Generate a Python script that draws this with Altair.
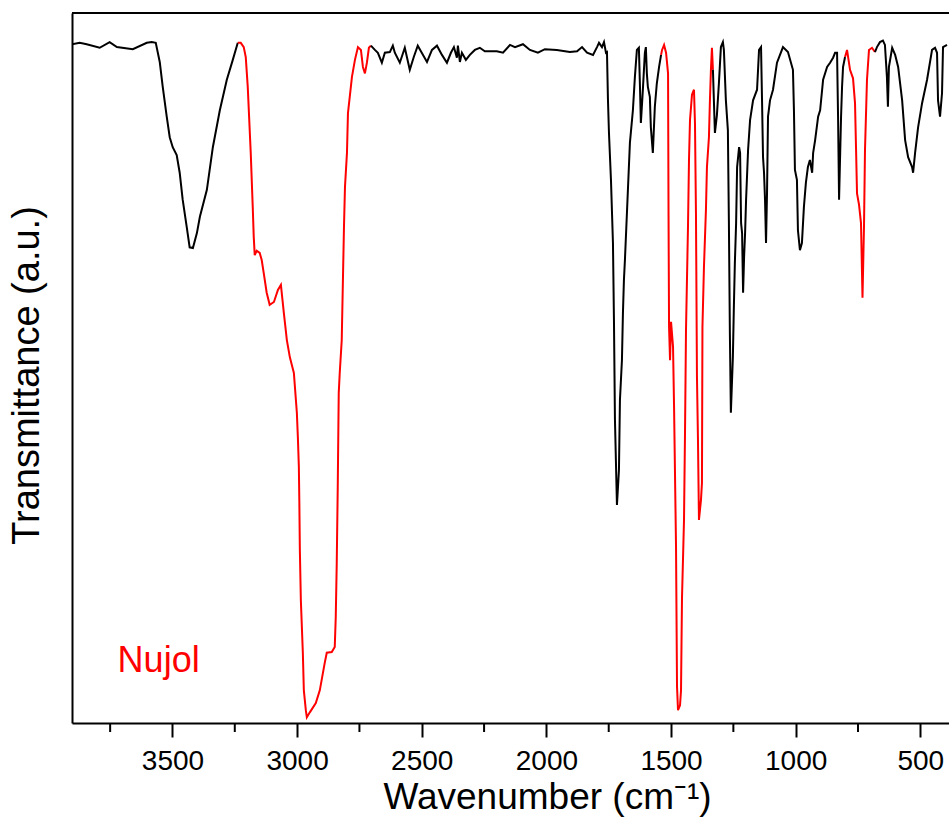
import altair as alt
import pandas as pd

FONT = "Liberation Sans"

# ---- spectrum: wavenumber (cm-1) and transmittance (a.u., 0-100) ----
seg1_wn = [3903, 3872, 3844, 3792, 3752, 3723, 3659, 3603, 3583, 3567, 3551, 3539, 3523, 3511, 3499,
           3483, 3471, 3459, 3443, 3431, 3418, 3402, 3390, 3362, 3338, 3310, 3282, 3258, 3238]
seg1_t = [95.6, 95.8, 95.6, 95.1, 95.9, 95.2, 94.9, 95.8, 95.9, 95.8, 93.1, 89.6, 85.4, 82.5, 81.1,
          80.0, 77.5, 73.7, 69.9, 67.0, 66.9, 69.0, 71.3, 75.1, 81.1, 86.3, 90.6, 93.4, 95.8]

seg2_wn = [3238, 3226, 3214, 3206, 3198, 3186, 3178, 3174, 3170, 3162, 3150, 3142, 3134, 3122, 3110,
           3093, 3077, 3065, 3053, 3041, 3029, 3013, 3001, 2997, 2993, 2991, 2989, 2985, 2977, 2973,
           2965, 2961, 2949, 2925, 2909, 2889, 2881, 2861, 2849, 2845, 2841, 2837, 2833, 2829, 2821,
           2812, 2808, 2800, 2796, 2780, 2768, 2756, 2744, 2736, 2728, 2720, 2712, 2704]
seg2_t = [95.8, 95.8, 95.2, 93.8, 89.6, 80.3, 72.7, 68.5, 65.9, 66.5, 66.2, 65.2, 63.4, 60.6, 58.9,
          59.3, 61.0, 61.7, 57.7, 53.9, 51.5, 49.3, 43.7, 40.3, 36.1, 31.0, 24.4, 17.3, 9.9, 4.6,
          1.8, 0.8, 1.5, 2.8, 4.6, 8.5, 9.9, 10.0, 10.7, 14.9, 22.5, 33.2, 46.5, 49.3, 53.9,
          69.9, 75.5, 80.3, 85.9, 91.0, 93.4, 95.2, 94.8, 92.4, 91.5, 93.0, 95.1, 95.4]

seg3_wn = [2704, 2688, 2676, 2660, 2648, 2628, 2616, 2608, 2588, 2568, 2548, 2532, 2516, 2500, 2479,
           2459, 2439, 2419, 2399, 2383, 2371, 2359, 2355, 2347, 2339, 2323, 2307, 2287, 2267, 2247,
           2227, 2199, 2174, 2146, 2126, 2094, 2066, 2034, 2006, 1958, 1906, 1877, 1857, 1837, 1813,
           1797, 1789, 1777, 1769, 1761, 1757, 1753, 1749, 1741, 1733, 1729, 1725, 1717, 1709, 1705,
           1697, 1693, 1689, 1685, 1677, 1673, 1665, 1653, 1645, 1637, 1629, 1625, 1621, 1613, 1605,
           1601, 1597, 1593, 1585, 1581, 1573, 1565, 1557, 1548, 1540]
seg3_t = [95.4, 94.8, 94.4, 93.0, 94.4, 94.5, 95.4, 94.4, 93.0, 95.1, 92.0, 93.8, 95.4, 94.4, 93.1,
          94.8, 95.4, 94.1, 93.0, 94.4, 95.2, 93.7, 95.4, 93.1, 94.4, 93.4, 94.1, 94.8, 95.1, 94.6,
          94.6, 94.6, 94.4, 95.5, 95.2, 95.6, 94.8, 94.4, 94.9, 94.8, 94.5, 94.6, 95.2, 94.4, 94.1,
          95.2, 95.8, 95.2, 95.9, 94.4, 94.5, 87.7, 83.1, 76.5, 67.6, 56.8, 42.7, 30.7, 35.6, 45.5,
          51.1, 57.7, 62.4, 65.2, 71.8, 75.1, 81.7, 86.3, 91.0, 94.8, 95.1, 90.1, 84.5, 89.2, 94.4,
          95.2, 91.5, 89.6, 88.2, 83.9, 80.3, 86.8, 90.1, 92.4, 94.1]

seg4_wn = [1540, 1536, 1528, 1520, 1512, 1510, 1508, 1504, 1500, 1492, 1488, 1480, 1476, 1472, 1464,
           1460, 1458, 1456, 1448, 1444, 1440, 1432, 1428, 1424, 1416, 1408, 1404, 1400, 1396, 1392,
           1388, 1380, 1376, 1374, 1368, 1360, 1356, 1348, 1344, 1340, 1336, 1332]
seg4_t = [94.1, 94.8, 95.5, 94.4, 91.5, 71.3, 55.8, 51.1, 56.5, 53.0, 44.8, 24.8, 5.1, 1.8, 2.5,
          4.6, 11.3, 17.7, 28.6, 40.8, 55.4, 69.9, 79.3, 84.9, 88.5, 89.2, 84.5, 71.8, 48.7, 39.9,
          28.6, 31.4, 33.8, 55.8, 64.2, 72.3, 78.3, 82.5, 87.7, 92.0, 95.1, 92.0]

seg5_wn = [1332, 1324, 1316, 1308, 1300, 1292, 1288, 1280, 1272, 1268, 1264, 1260, 1252, 1248, 1244,
           1239, 1235, 1227, 1223, 1219, 1215, 1211, 1207, 1203, 1199, 1191, 1183, 1171, 1155, 1147,
           1139, 1135, 1131, 1127, 1123, 1119, 1115, 1111, 1103, 1091, 1075, 1051, 1031, 1011, 1007,
           1003, 995, 991, 983, 975, 967, 959, 951, 943, 934, 930, 922, 910, 902, 890,
           874, 862, 850, 842, 834, 830, 826, 818, 814, 810, 802]
seg5_t = [92.0, 83.1, 85.6, 90.1, 95.2, 95.9, 94.8, 87.7, 83.5, 70.8, 54.9, 43.7, 51.5, 58.6, 64.8,
          70.4, 78.3, 81.1, 80.3, 70.4, 69.0, 60.6, 65.6, 69.0, 73.7, 80.7, 84.9, 87.7, 89.2, 94.8,
          95.2, 87.7, 79.7, 77.5, 73.7, 67.6, 74.6, 85.4, 87.7, 89.2, 93.0, 95.2, 94.5, 92.0, 86.3,
          77.9, 76.5, 69.4, 66.6, 67.6, 72.7, 76.1, 78.3, 79.3, 77.5, 80.3, 82.1, 85.4, 86.3, 90.6,
          92.4, 93.0, 93.7, 94.4, 94.4, 85.4, 73.7, 85.4, 89.6, 92.4, 93.8]

seg6_wn = [802, 794, 782, 770, 762, 758, 754, 746, 738, 732, 726, 722, 714, 706, 694, 682]
seg6_t = [93.8, 94.8, 92.0, 90.8, 87.3, 81.1, 74.6, 73.0, 70.4, 59.9, 69.9, 80.7, 90.6, 94.8, 95.1, 94.5]

seg7_wn = [682, 674, 662, 650, 642, 634, 630, 626, 613, 601, 589, 573, 561, 549, 533,
           529, 521, 509, 493, 473, 453, 441, 433, 429, 421, 413, 409, 393]
seg7_t = [94.5, 95.2, 95.9, 96.1, 95.5, 91.0, 86.8, 92.4, 95.1, 94.1, 92.4, 87.7, 82.1, 79.7, 78.3,
          77.5, 80.3, 83.9, 87.3, 90.6, 94.8, 95.1, 94.4, 87.7, 85.4, 88.7, 95.2, 95.5]

segments = [
    (seg1_wn, seg1_t, "#000000"),
    (seg2_wn, seg2_t, "#ff0000"),
    (seg3_wn, seg3_t, "#000000"),
    (seg4_wn, seg4_t, "#ff0000"),
    (seg5_wn, seg5_t, "#000000"),
    (seg6_wn, seg6_t, "#ff0000"),
    (seg7_wn, seg7_t, "#000000"),
]

major_ticks = [3500, 3000, 2500, 2000, 1500, 1000, 500]
minor_ticks = [3750, 3250, 2750, 2250, 1750, 1250, 750]
x_domain = [385, 3903]
y_domain = [0, 100]

rows = []
for s, (wns, ts, col) in enumerate(segments):
    for i, (w, t) in enumerate(zip(wns, ts)):
        rows.append({"wn": w, "T": t, "seg": s, "i": i, "color": col})
df = pd.DataFrame(rows)

W, H = 877, 710

x_enc = alt.X(
    "wn:Q",
    scale=alt.Scale(domain=x_domain, reverse=True, nice=False, zero=False),
    axis=alt.Axis(
        values=major_ticks, format="d", tickSize=14, labelFontSize=28, labelPadding=10,
        labelFont=FONT, labelColor="black", labelFlush=False, labelOverlap=False,
        title="Wavenumber (cm\u207b\u00b9)", titleFont=FONT, titleFontSize=37,
        titleFontWeight="normal", titleColor="black", titleX=475, titleY=85,
        titleBaseline="alphabetic", titleAlign="center", grid=False,
        domainColor="black", domainWidth=2, tickColor="black", tickWidth=2,
    ),
)
y_enc = alt.Y(
    "T:Q",
    scale=alt.Scale(domain=y_domain, nice=False, zero=False),
    axis=alt.Axis(
        ticks=False, labels=False, grid=False, domainColor="black", domainWidth=2,
        title="Transmittance (a.u.)", titleFont=FONT, titleFontSize=38,
        titleFontWeight="normal", titleColor="black", titleX=-34, titleY=362,
        titleAngle=270, titleBaseline="alphabetic", titleAlign="center",
    ),
)

spectrum = alt.Chart(df).mark_line(strokeWidth=2, clip=True).encode(
    x=x_enc, y=y_enc,
    color=alt.Color("color:N", scale=None),
    detail="seg:N",
    order="i:Q",
)

minor = alt.Chart(pd.DataFrame({"wn": minor_ticks})).mark_rule(
    color="black", strokeWidth=2, clip=False
).encode(x=x_enc, y=alt.value(H), y2=alt.value(H + 9))

top_border = alt.Chart(pd.DataFrame({"a": [0]})).mark_rule(
    color="black", strokeWidth=2, clip=False
).encode(x=alt.value(0), x2=alt.value(W), y=alt.value(0))

label = alt.Chart(pd.DataFrame({"wn": [3720], "T": [7.2], "txt": ["Nujol"]})).mark_text(
    align="left", baseline="alphabetic", fontSize=36, font=FONT, color="#ff0000"
).encode(x=x_enc, y=y_enc, text="txt:N")

chart = alt.layer(spectrum, minor, top_border, label).properties(
    width=W, height=H,
    padding={"left": 72, "top": 13, "right": 0, "bottom": 114},
    autosize=alt.AutoSizeParams(type="none"),
    background="white",
).configure_view(stroke=None)

chart.save("out.html", embed_options={"renderer": "svg", "actions": False})
